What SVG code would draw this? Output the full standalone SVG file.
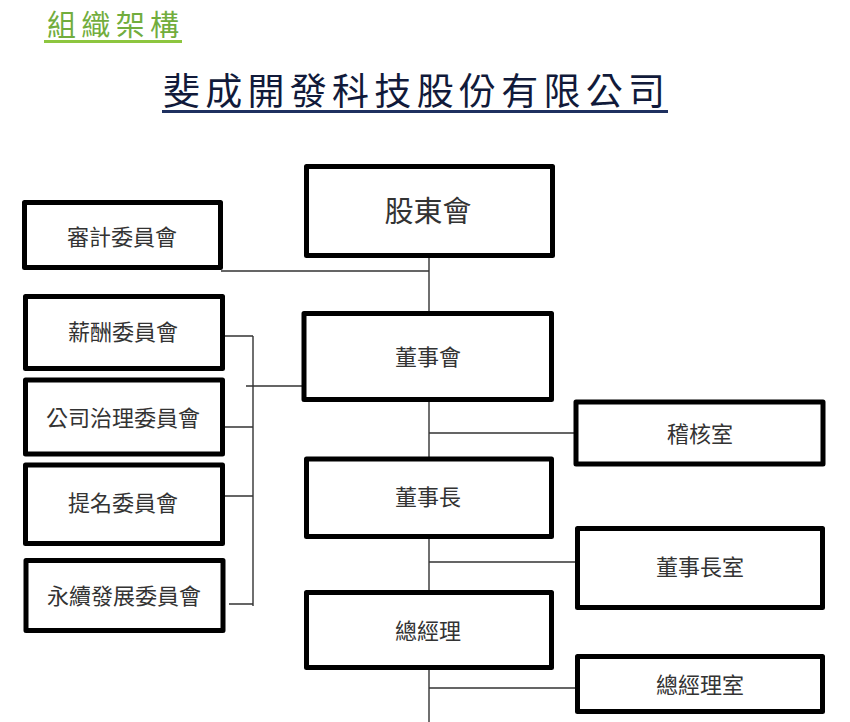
<svg xmlns="http://www.w3.org/2000/svg" width="850" height="722" viewBox="0 0 850 722">
<style>
.box{fill:#fff;stroke:#000;stroke-width:5;stroke-linejoin:round}
.t{font-family:"Noto Sans CJK TC","Noto Sans CJK JP",sans-serif;font-size:22px;fill:#333;text-anchor:middle}
.ln{fill:none;stroke:#333;stroke-width:1.4}
</style>
<rect width="850" height="722" fill="#fff"/>
<g id="title">
<text x="47" y="36" font-family="'Noto Sans CJK TC',sans-serif" font-size="29" fill="#72ad3d" textLength="132" lengthAdjust="spacing">組織架構</text>
<rect x="44" y="40" width="138" height="3" fill="#8dc63f"/>
</g>
<g id="company">
<text x="163" y="105" font-family="'Noto Sans CJK TC',sans-serif" font-size="37" fill="#111a3a" textLength="502" lengthAdjust="spacing">斐成開發科技股份有限公司</text>
<rect x="162" y="110" width="506" height="3" fill="#1f3160"/>
</g>
<g id="connectors">
<path class="ln" d="M221 271H429M429 258V313"/>
<path class="ln" d="M223 336H253M253 336V606M223 427H253M223 496H253M229 604H253M246 386H304"/>
<path class="ln" d="M429 400V459M429 433H576"/>
<path class="ln" d="M429 536V592M429 562H577"/>
<path class="ln" d="M429 668V722M429 688H577"/>
</g>
<g id="n-shareholders"><rect class="box" x="306.5" y="166.5" width="246" height="89"/><text class="t" x="428" y="222" style="font-size:29px">股東會</text></g>
<g id="n-audit"><rect class="box" x="24.5" y="202.5" width="196" height="65"/><text class="t" x="122" y="245">審計委員會</text></g>
<g id="n-comp"><rect class="box" x="25.5" y="296.5" width="197" height="72"/><text class="t" x="123" y="340">薪酬委員會</text></g>
<g id="n-gov"><rect class="box" x="25.5" y="380" width="197" height="74"/><text class="t" x="123" y="426">公司治理委員會</text></g>
<g id="n-nom"><rect class="box" x="25.5" y="465" width="197" height="78.5"/><text class="t" x="123" y="511">提名委員會</text></g>
<g id="n-sust"><rect class="box" x="26" y="560.5" width="197" height="70"/><text class="t" x="124" y="604">永續發展委員會</text></g>
<g id="n-board"><rect class="box" x="304" y="313.5" width="247.5" height="86"/><text class="t" x="428" y="365">董事會</text></g>
<g id="n-auditroom"><rect class="box" x="576" y="402" width="247" height="62"/><text class="t" x="700" y="442">稽核室</text></g>
<g id="n-chair"><rect class="box" x="306.5" y="459" width="245" height="77.5"/><text class="t" x="428" y="505">董事長</text></g>
<g id="n-chairoffice"><rect class="box" x="577.5" y="528.5" width="245" height="79"/><text class="t" x="700" y="575">董事長室</text></g>
<g id="n-gm"><rect class="box" x="306.5" y="592.5" width="245" height="75"/><text class="t" x="428" y="639">總經理</text></g>
<g id="n-gmoffice"><rect class="box" x="577.5" y="656.5" width="245" height="55"/><text class="t" x="700" y="693">總經理室</text></g>
</svg>
